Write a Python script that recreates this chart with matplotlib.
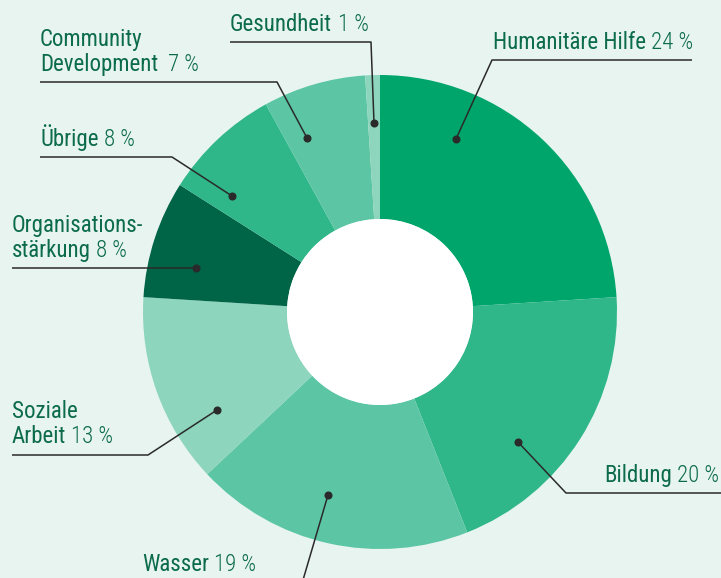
import matplotlib
matplotlib.use("Agg")
import matplotlib.pyplot as plt
from matplotlib.patches import Circle
from matplotlib import font_manager

# ---- data ----
categories = ["Humanitäre Hilfe", "Bildung", "Wasser", "Soziale Arbeit",
              "Organisationsstärkung", "Übrige", "Community Development", "Gesundheit"]
shares = [24, 20, 19, 13, 8, 8, 7, 1]
pct_labels = [f"{v} %" for v in shares]
colors = ["#00a56c", "#2fb78a", "#5cc6a4", "#8dd5bc",
          "#006446", "#2fb78a", "#5cc6a4", "#8dd5bc"]

BG = "#e8f4f0"
TXT = "#0b6b4b"
LINE = "#2a2a2a"

avail = {f.name for f in font_manager.fontManager.ttflist}
FONT = next(f for f in ["Liberation Sans Narrow", "Roboto Condensed", "Liberation Sans", "DejaVu Sans"] if f in avail)
light_ok = any(f.name == FONT and f.weight in (300, "light") for f in font_manager.fontManager.ttflist)
PCT_WEIGHT = "light" if light_ok else "normal"
FS = 16.5

W, H = 721, 578
CX, CY, R_OUT, R_IN = 380, 312, 237, 93


def P(x, y):
    return (x, H - y)


# label layout in pixel coords: text lines (x, baseline, text), gap before pct, leader path, dot
layout = [
    dict(lines=[(493, 49, "Humanitäre Hilfe")], gap=5,
         path=[(692, 60), (492, 60), (456, 139)]),
    dict(lines=[(604, 482, "Bildung")], gap=5,
         path=[(721, 493), (566, 493), (518, 442)]),
    dict(lines=[(142, 571, "Wasser")], gap=5,
         path=[(303, 580), (328, 495)]),
    dict(lines=[(12, 418, "Soziale"), (12, 443, "Arbeit")], gap=5,
         path=[(12, 455), (148, 455), (217, 410)]),
    dict(lines=[(12, 232, "Organisations-"), (12, 257, "stärkung")], gap=5,
         path=[(12, 268), (196, 268)]),
    dict(lines=[(40, 146, "Übrige")], gap=5,
         path=[(40, 157), (172, 157), (232, 196)]),
    dict(lines=[(40, 46, "Community"), (40, 71, "Development")], gap=10,
         path=[(40, 82), (277, 82), (307, 138)]),
    dict(lines=[(230, 31, "Gesundheit")], gap=6,
         path=[(230, 42), (371, 42), (374, 123)]),
]

fig = plt.figure(figsize=(7.21, 5.78), dpi=100, facecolor=BG)
ax = fig.add_axes([0, 0, 1, 1])
ax.set_facecolor(BG)

ax.pie(shares, colors=colors, startangle=90, counterclock=False,
       center=P(CX, CY), radius=R_OUT,
       wedgeprops=dict(linewidth=0, width=R_OUT - R_IN))
ax.add_patch(Circle(P(CX, CY), R_IN, facecolor="white", edgecolor="none", zorder=3))

for i, lay in enumerate(layout):
    t = None
    for (x, yb, s) in lay["lines"]:
        t = ax.text(*P(x, yb), s, fontsize=FS, family=FONT, color=TXT,
                    ha="left", va="baseline", zorder=5)
    ax.annotate(pct_labels[i], xy=(1, 0), xycoords=t,
                xytext=(lay["gap"], 0), textcoords="offset pixels",
                fontsize=FS, family=FONT, weight=PCT_WEIGHT, color=TXT,
                ha="left", va="bottom", zorder=5)
    xs = [p[0] for p in lay["path"]]
    ys = [H - p[1] for p in lay["path"]]
    ax.plot(xs, ys, color=LINE, lw=1.1, solid_capstyle="butt", zorder=6)
    ax.plot(xs[-1], ys[-1], "o", color=LINE, ms=4.8, zorder=7)

ax.set_xlim(0, W)
ax.set_ylim(0, H)
ax.set_aspect("equal")
ax.axis("off")

fig.savefig("out.png", dpi=100, facecolor=BG)
